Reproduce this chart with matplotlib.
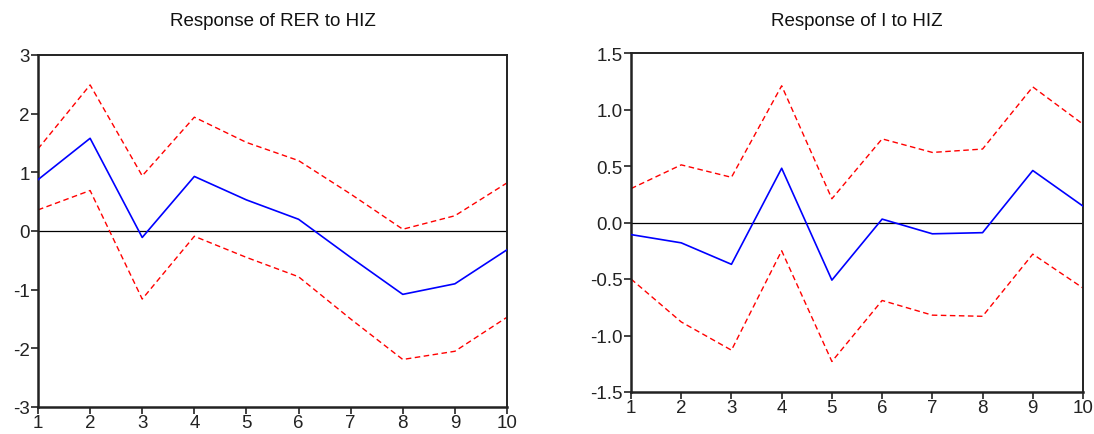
import matplotlib
matplotlib.use("Agg")
import matplotlib.pyplot as plt

plt.rcParams['font.family'] = ['Liberation Sans', 'DejaVu Sans']

periods = [1, 2, 3, 4, 5, 6, 7, 8, 9, 10]

# Response of RER to HIZ
rer_resp = [0.875, 1.58, -0.11, 0.93, 0.53, 0.20, -0.45, -1.08, -0.90, -0.32]
rer_upper = [1.40, 2.49, 0.94, 1.94, 1.51, 1.20, 0.63, 0.03, 0.26, 0.82]
rer_lower = [0.36, 0.69, -1.16, -0.09, -0.45, -0.78, -1.50, -2.19, -2.05, -1.47]

# Response of I to HIZ
i_resp = [-0.107, -0.18, -0.37, 0.48, -0.51, 0.03, -0.10, -0.09, 0.46, 0.145]
i_upper = [0.30, 0.51, 0.40, 1.21, 0.21, 0.74, 0.62, 0.65, 1.20, 0.87]
i_lower = [-0.50, -0.88, -1.13, -0.25, -1.23, -0.69, -0.82, -0.83, -0.28, -0.58]

rer_yticks = [-3, -2, -1, 0, 1, 2, 3]
rer_ylabels = ['-3', '-2', '-1', '0', '1', '2', '3']
i_yticks = [-1.5, -1.0, -0.5, 0.0, 0.5, 1.0, 1.5]
i_ylabels = ['-1.5', '-1.0', '-0.5', '0.0', '0.5', '1.0', '1.5']

W, H = 1094, 435
fig = plt.figure(figsize=(W / 100, H / 100), dpi=100)

ax1 = fig.add_axes([38 / W, 1 - 408 / H, (507 - 38) / W, (408 - 56) / H])
ax2 = fig.add_axes([631 / W, 1 - 393 / H, (1083 - 631) / W, (393 - 54) / H])


def draw(ax, resp, up, lo, yticks, ylabels, ylim, title):
    ax.axhline(0, color='black', lw=0.9, zorder=1)
    ax.plot(periods, up, color='#ff0000', lw=1.0, ls=(0, (4, 2.5)), zorder=2)
    ax.plot(periods, lo, color='#ff0000', lw=1.0, ls=(0, (4, 2.5)), zorder=2)
    ax.plot(periods, resp, color='#0000ff', lw=1.2, zorder=3)
    ax.set_xlim(1, 10)
    ax.set_ylim(*ylim)
    ax.set_xticks(periods)
    ax.set_xticklabels([str(p) for p in periods])
    ax.set_yticks(yticks)
    ax.set_yticklabels(ylabels)
    ax.tick_params(direction='out', length=5, width=1.2, labelsize=13.5,
                   colors='#222222', pad=1)
    ax.tick_params(axis='x', pad=0)
    for side in ['left', 'bottom']:
        ax.spines[side].set_linewidth(1.8)
        ax.spines[side].set_color('#222222')
    for side in ['top', 'right']:
        ax.spines[side].set_linewidth(1.4)
        ax.spines[side].set_color('#222222')
    pos = ax.get_position()
    fig.text((pos.x0 + pos.x1) / 2, 1 - 22 / H, title, ha='center',
             va='center', fontsize=13.5, color='#111111')


draw(ax1, rer_resp, rer_upper, rer_lower, rer_yticks, rer_ylabels, (-3, 3),
     'Response of RER to HIZ')
draw(ax2, i_resp, i_upper, i_lower, i_yticks, i_ylabels, (-1.5, 1.5),
     'Response of I to HIZ')

fig.savefig('out.png', dpi=100)
